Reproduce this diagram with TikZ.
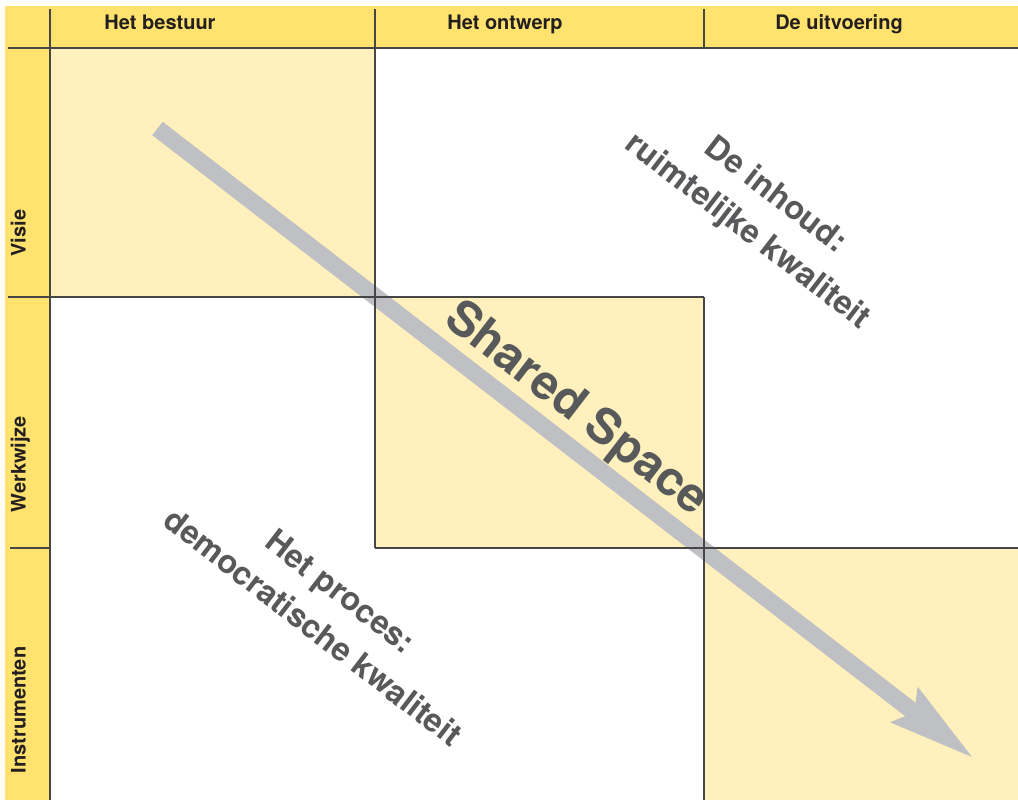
\documentclass[tikz,border=0pt]{standalone}
\usepackage{fontspec}
\setmainfont{TeX Gyre Heros}
\usetikzlibrary{calc}
\definecolor{band}{RGB}{255,227,110}
\definecolor{cell}{RGB}{255,240,190}
\definecolor{arrowgray}{RGB}{191,192,195}
\definecolor{txtgray}{RGB}{88,89,91}
\definecolor{hdr}{RGB}{35,31,32}
\definecolor{rule}{RGB}{70,70,70}
\begin{document}
\begin{tikzpicture}[x=0.75pt,y=-0.75pt,
 hdrtext/.style={font=\fontsize{15}{18}\selectfont\bfseries, text=hdr, anchor=base, inner sep=0pt},
 sidetext/.style={hdrtext, rotate=90},
 bigtext/.style={font=\fontsize{24.3}{34}\selectfont\bfseries, text=txtgray, align=center, rotate=-37.6, inner sep=0pt},
 gridline/.style={draw=rule, line width=1.1pt}
]
\useasboundingbox (0,0) rectangle (1018,800);
\fill[white] (0,0) rectangle (1018,800);
\fill[band] (5,6) rectangle (1018,48);
\fill[band] (5,6) rectangle (50,800);
\fill[cell] (50,48) rectangle (375,297);
\fill[cell] (375,297) rectangle (704,548);
\fill[cell] (704,548) rectangle (1018,800);
% arrow
\coordinate (s) at (157.5,128.5);
\coordinate (t) at (972,757);
\coordinate (nb) at ($(t)!52.5pt!(s)$);
\coordinate (hc) at ($(t)!54.75pt!(s)$);
\coordinate (hb) at ($(t)!64.5pt!(s)$);
\fill[arrowgray] ($(hb)!16.9pt!90:(t)$) -- (t) -- ($(hb)!16.9pt!-90:(t)$) -- (hc) -- cycle;
\draw[arrowgray, line width=12.75pt] (s) -- (nb);
% grid lines
\draw[gridline] (8,48) -- (1018,48);
\draw[gridline] (50,9) -- (50,800);
\draw[gridline] (375,9) -- (375,548);
\draw[gridline] (704,9) -- (704,48);
\draw[gridline] (704,297) -- (704,800);
\draw[gridline] (8,297) -- (704,297);
\draw[gridline] (10,548) -- (50,548);
\draw[gridline] (375,548) -- (1018,548);
% headers
\node[hdrtext] (h1) at (160,29.3) {Het bestuur};
\node[hdrtext] (h2) at (505,29.3) {Het ontwerp};
\node[hdrtext] (h3) at (839,29.3) {De uitvoering};
\node[sidetext] (r1) at (25.5,233) {Visie};
\node[sidetext] (r2) at (25.5,464) {Werkwijze};
\node[sidetext] (r3) at (25.5,710) {Instrumenten};
% big texts
\node[bigtext, font=\fontsize{36}{40}\selectfont\bfseries, anchor=base] (ss) at (568,420) {Shared Space};
\node[bigtext] (inh) at (761,214) {De inhoud:\\ruimtelijke kwaliteit};
\node[bigtext] (pro) at (327,609) {Het proces:\\democratische kwaliteit};
\end{tikzpicture}
\end{document}
